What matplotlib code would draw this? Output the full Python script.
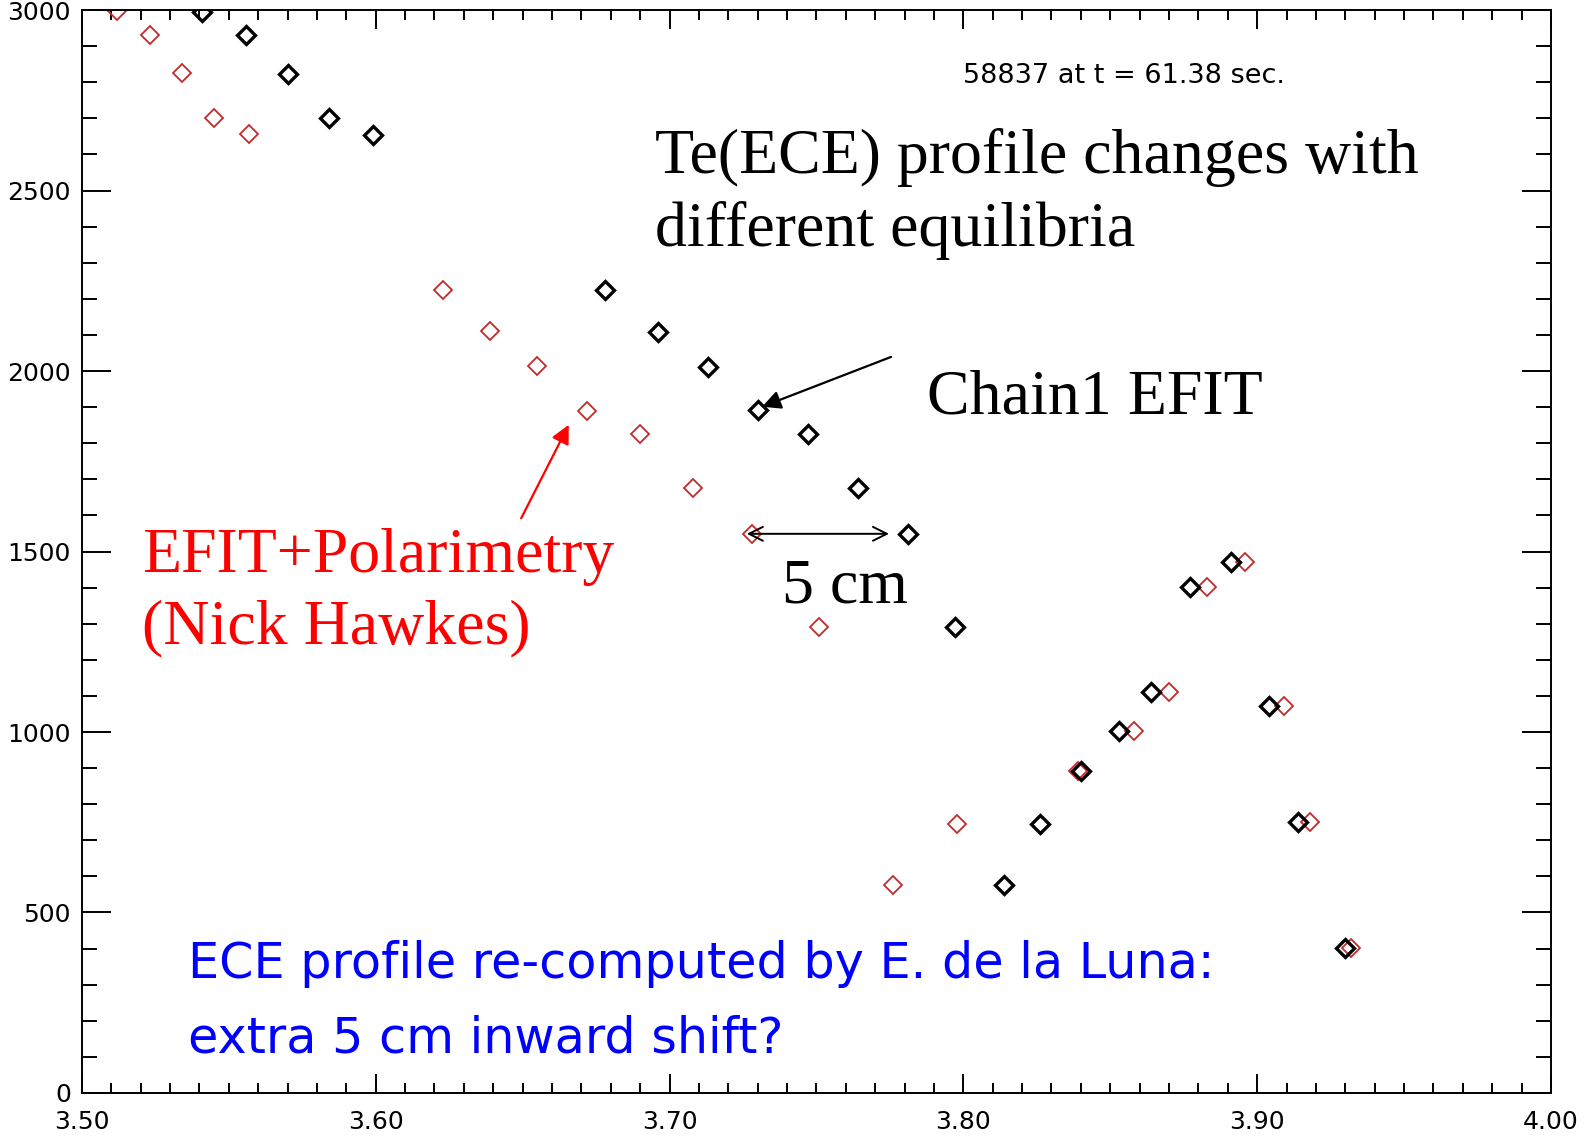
import numpy as np
import matplotlib
matplotlib.use("Agg")
import matplotlib.pyplot as plt
from matplotlib.ticker import MultipleLocator

# Chain1 EFIT (black) and EFIT+Polarimetry (red) Te(ECE) profiles
r_efit = [3.541, 3.556, 3.570, 3.584, 3.599, 3.678, 3.696, 3.713, 3.730, 3.747,
          3.764, 3.781, 3.797, 3.814, 3.826, 3.840, 3.853, 3.864, 3.877, 3.891,
          3.904, 3.914, 3.930]
te_efit = [2995, 2930, 2823, 2701, 2654, 2225, 2107, 2011, 1893, 1825,
           1676, 1549, 1290, 577, 746, 893, 1003, 1110, 1403, 1470,
           1073, 752, 403]

r_pol = [3.512, 3.523, 3.534, 3.545, 3.557, 3.623, 3.639, 3.655, 3.672, 3.690,
         3.708, 3.728, 3.751, 3.776, 3.798, 3.839, 3.858, 3.870, 3.883, 3.896,
         3.909, 3.918, 3.932]
te_pol = [2998, 2930, 2825, 2701, 2656, 2225, 2110, 2014, 1890, 1825,
          1676, 1549, 1290, 577, 746, 893, 1003, 1110, 1403, 1470,
          1073, 752, 403]

x_ticks = [3.50, 3.60, 3.70, 3.80, 3.90, 4.00]
y_ticks = [0, 500, 1000, 1500, 2000, 2500, 3000]

fig = plt.figure(figsize=(15.94, 11.37), dpi=100)
ax = fig.add_axes([0.0514, 0.0387, 0.9216, 0.9525])

ax.plot(r_pol, te_pol, linestyle="none", marker="D", markersize=9.5,
        markerfacecolor="none", markeredgecolor="#c42a2a", markeredgewidth=1.3)
ax.plot(r_efit, te_efit, linestyle="none", marker="D", markersize=9,
        markerfacecolor="none", markeredgecolor="black", markeredgewidth=2.4)

ax.set_xlim(3.50, 4.00)
ax.set_ylim(0, 3000)
ax.set_xticks(x_ticks)
ax.set_xticklabels(["%.2f" % v for v in x_ticks])
ax.set_yticks(y_ticks)
ax.set_yticklabels([str(v) for v in y_ticks])
ax.xaxis.set_minor_locator(MultipleLocator(0.01))
ax.yaxis.set_minor_locator(MultipleLocator(100))
ax.tick_params(which="both", direction="in", top=True, right=True,
               labelsize=18, width=1.4)
ax.tick_params(axis="x", which="major", length=14, pad=12)
ax.tick_params(axis="x", which="minor", length=7)
ax.tick_params(axis="y", which="major", length=21, pad=8)
ax.tick_params(axis="y", which="minor", length=11)
for s in ax.spines.values():
    s.set_linewidth(1.4)

serif = "Liberation Serif"
ax.text(3.800, 2818, "58837 at t = 61.38 sec.", fontsize=19.5, va="center", ha="left")
ax.text(3.695, 2672, "Te(ECE) profile changes with\ndifferent equilibria",
        family=serif, fontsize=46, va="top", ha="left", linespacing=1.3)
ax.text(3.7875, 1925, "Chain1 EFIT", family=serif, fontsize=46,
        va="center", ha="left")
ax.text(3.5204, 1565, "EFIT+Polarimetry\n(Nick Hawkes)", family=serif,
        fontsize=46, color="red", va="top", ha="left", linespacing=1.3)
ax.text(3.7384, 1400, "5 cm", family=serif, fontsize=46, va="center", ha="left")
ax.text(3.536, 254, "ECE profile re-computed by E. de la Luna:\nextra 5 cm inward shift?",
        fontsize=35.5, color="blue", va="center", ha="left", linespacing=1.69)

# arrows
ax.annotate("", xy=(3.7315, 1901), xytext=(3.7754, 2039),
            arrowprops=dict(arrowstyle="-|>", color="black", lw=1.6,
                            mutation_scale=28, shrinkA=0, shrinkB=0))
ax.annotate("", xy=(3.6657, 1851), xytext=(3.6495, 1592),
            arrowprops=dict(arrowstyle="-|>", color="red", lw=1.6,
                            mutation_scale=28, shrinkA=0, shrinkB=0))
ax.annotate("", xy=(3.7263, 1549), xytext=(3.7747, 1549),
            arrowprops=dict(arrowstyle="<->", color="black", lw=1.4,
                            mutation_scale=25, shrinkA=0, shrinkB=0))

fig.savefig("out.png", dpi=100)
